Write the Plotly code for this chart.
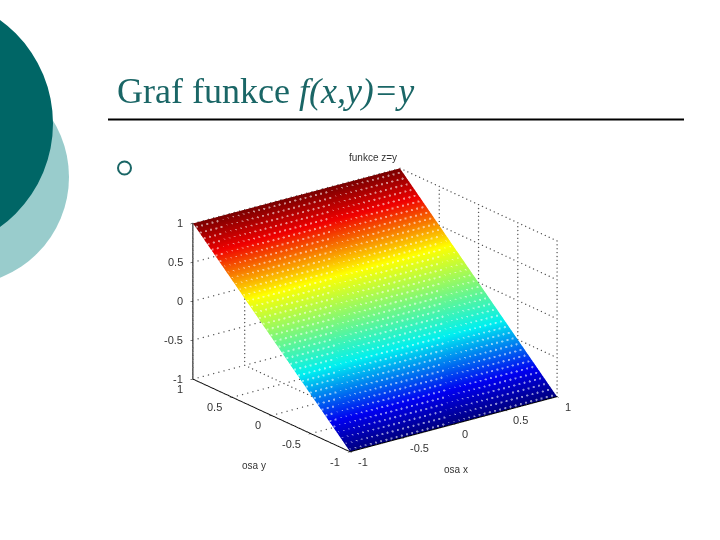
import plotly.graph_objects as go

# osa x, osa y (krok 0.05 jako v puvodnim grafu), z = y
x_vals = [-1, -0.95, -0.9, -0.85, -0.8, -0.75, -0.7, -0.65, -0.6, -0.55, -0.5, -0.45, -0.4, -0.35,
          -0.3, -0.25, -0.2, -0.15, -0.1, -0.05, 0, 0.05, 0.1, 0.15, 0.2, 0.25, 0.3, 0.35, 0.4,
          0.45, 0.5, 0.55, 0.6, 0.65, 0.7, 0.75, 0.8, 0.85, 0.9, 0.95, 1]
y_vals = list(x_vals)
z_vals = [[y for _ in x_vals] for y in y_vals]
tick_vals = [-1, -0.5, 0, 0.5, 1]
tick_text = ["-1", "-0.5", "0", "0.5", "1"]

jet = [[0, "#00007f"], [0.125, "#0000f0"], [0.335, "#00f0f0"], [0.665, "#ffff00"],
       [0.875, "#f00000"], [1, "#7a0000"]]

fig = go.Figure()
fig.add_trace(go.Surface(x=x_vals, y=y_vals, z=z_vals, colorscale=jet, cmin=-1, cmax=1,
                         showscale=False, lighting=dict(ambient=1, diffuse=0, specular=0, fresnel=0)))

# bile tecky v uzlech site, kousek nad plochou
px, py, pz = [], [], []
for y in y_vals:
    for x in x_vals:
        px.append(x)
        py.append(y)
        pz.append(y + 0.03)
fig.add_trace(go.Scatter3d(x=px, y=py, z=pz, mode="markers",
                           marker=dict(size=1.3, color="white", opacity=0.55, line_width=0)))

# teckovana mrizka na zadnich stenach
gx, gy, gz = [], [], []
for t in tick_vals:
    for s in x_vals:
        # podlaha
        gx += [t, s]
        gy += [s, t]
        gz += [-1, -1]
        # stena y=1
        gx += [t, s]
        gy += [1, 1]
        gz += [s, t]
        # stena x=1
        gx += [1, 1]
        gy += [t, s]
        gz += [s, t]
fig.add_trace(go.Scatter3d(x=gx, y=gy, z=gz, mode="markers",
                           marker=dict(size=0.8, color="#555555", line_width=0)))

axis = dict(tickvals=tick_vals, ticktext=tick_text, range=[-1, 1], autorange=False,
            showgrid=False, zeroline=False, showbackground=False, showline=True,
            linecolor="black", linewidth=2, ticks="outside", ticklen=3, tickcolor="black",
            showticklabels=False, title_text="")

label_font = dict(family="Liberation Sans", size=11, color="#333333")
scene_labels = []
for t, s in zip(tick_vals, tick_text):
    scene_labels.append(dict(x=t, y=-1, z=-1, text=s, showarrow=False, font=label_font,
                             xanchor="left", yanchor="middle", xshift=6, yshift=-10))
    scene_labels.append(dict(x=-1, y=t, z=-1, text=s, showarrow=False, font=label_font,
                             xanchor="right", yanchor="middle", xshift=-8, yshift=-10))
    scene_labels.append(dict(x=-1, y=1, z=t, text=s, showarrow=False, font=label_font,
                             xanchor="right", yanchor="middle", xshift=-8, yshift=0))

fig.update_layout(
    width=720, height=540, margin=dict(l=0, r=0, t=0, b=0), paper_bgcolor="white",
    showlegend=False,
    scene=dict(
        domain=dict(x=[0.0417, 1.0], y=[0.0, 0.852]),
        xaxis=axis, yaxis=axis, zaxis=axis,
        aspectmode="manual", aspectratio=dict(x=1.13, y=1.13, z=0.723),
        camera=dict(projection=dict(type="orthographic"),
                    center=dict(x=0, y=0, z=0),
                    eye=dict(x=-1.0, y=-1.318, z=0.62)),
        annotations=scene_labels,
    ),
    shapes=[
        dict(type="circle", xref="paper", yref="paper", x0=-147/720, x1=69/720,
             y0=1-285/540, y1=1-69/540, fillcolor="#99cccc", line_width=0, layer="below"),
        dict(type="circle", xref="paper", yref="paper", x0=-202/720, x1=53/720,
             y0=1-251/540, y1=1+4/540, fillcolor="#006666", line_width=0, layer="below"),
        dict(type="line", xref="paper", yref="paper", x0=108/720, x1=684/720,
             y0=1-119.5/540, y1=1-119.5/540, line=dict(color="black", width=2), layer="below"),
        dict(type="circle", xref="paper", yref="paper", x0=118/720, x1=131/720,
             y0=1-174.5/540, y1=1-161.5/540, line=dict(color="#1a6666", width=2), layer="below"),
    ],
    annotations=[
        dict(text="Graf funkce <i>f(x,y)=y</i>", xref="paper", yref="paper", x=115/720, y=1-91/540,
             xanchor="left", yanchor="middle", showarrow=False,
             font=dict(family="Liberation Serif", size=36, color="#1a6666")),
        dict(text="funkce z=y", xref="paper", yref="paper", x=373/720, y=1-157/540,
             xanchor="center", yanchor="middle", showarrow=False,
             font=dict(family="Liberation Sans", size=10, color="#333333")),
        dict(text="osa y", xref="paper", yref="paper", x=254/720, y=1-465/540,
             xanchor="center", yanchor="middle", showarrow=False,
             font=dict(family="Liberation Sans", size=10, color="#333333")),
        dict(text="osa x", xref="paper", yref="paper", x=456/720, y=1-469/540,
             xanchor="center", yanchor="middle", showarrow=False,
             font=dict(family="Liberation Sans", size=10, color="#333333")),
    ],
)

fig.write_html("out.html", config={"displayModeBar": False},
               post_script="document.body.style.margin='0';")
